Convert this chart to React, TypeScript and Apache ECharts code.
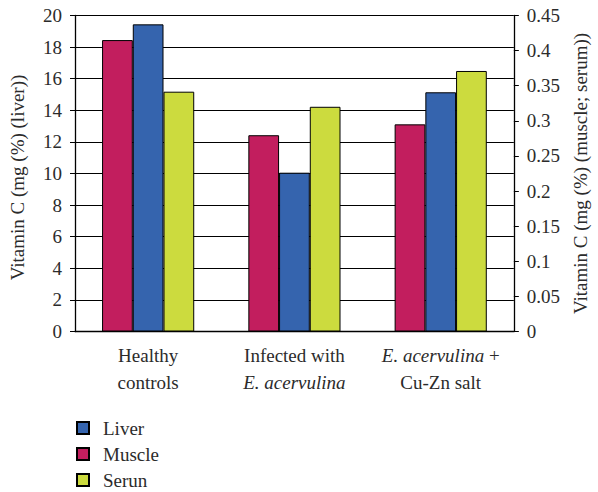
import React, { useEffect, useRef } from "react";
import * as echarts from "echarts";

const categories = ["Healthy\ncontrols", "Infected with\n{i|E. acervulina}", "{i|E. acervulina} +\nCu-Zn salt"];
const liver = [19.44, 10.05, 15.14];
const muscle = [0.415, 0.2795, 0.295];
const serum = [0.3415, 0.32, 0.371];
const legendNames = ["Liver", "Muscle", "Serun"];

const FONT = "'Liberation Serif', 'Times New Roman', serif";
const TXT = "#2B2B2B";
const FS = 19;

export default function App() {
  const ref = useRef<HTMLDivElement>(null);
  useEffect(() => {
    const chart = echarts.init(ref.current!, null, { renderer: "svg" });
    const border = { borderColor: "#000", borderWidth: 1 };
    chart.setOption({
      animation: false,
      textStyle: { fontFamily: FONT, color: TXT },
      grid: { left: 75, right: 80, top: 15.5, bottom: 160.5 },
      legend: {
        data: legendNames,
        orient: "vertical",
        left: 76,
        top: 418,
        padding: 0,
        itemWidth: 12,
        itemHeight: 12,
        itemGap: 6,
        icon: "rect",
        textStyle: { fontFamily: FONT, fontSize: FS, color: TXT, lineHeight: 20, padding: [0, 0, 0, 9] },
      },
      xAxis: {
        type: "category",
        data: categories,
        axisLine: { lineStyle: { color: "#000", width: 1.3 } },
        axisTick: { length: 5, lineStyle: { color: "#000" } },
        axisLabel: {
          fontFamily: FONT,
          fontSize: FS,
          color: TXT,
          lineHeight: 27,
          margin: 10,
          interval: 0,
          rich: { i: { fontStyle: "italic", fontFamily: FONT, fontSize: FS, color: TXT, lineHeight: 27 } },
        },
      },
      yAxis: [
        {
          type: "value",
          min: 0,
          max: 20,
          interval: 2,
          name: "Vitamin C (mg (%) (liver))",
          nameLocation: "middle",
          nameGap: 48,
          nameTextStyle: { fontFamily: FONT, fontSize: FS, color: TXT, padding: [0, 8, 0, 0] },
          axisLine: { show: true, lineStyle: { color: "#000", width: 1.3 } },
          axisTick: { show: true, length: 5, lineStyle: { color: "#000" } },
          axisLabel: { fontFamily: FONT, fontSize: FS, color: TXT, margin: 13 },
          splitLine: { show: true, lineStyle: { color: "#000", width: 1 } },
        },
        {
          type: "value",
          min: 0,
          max: 0.45,
          interval: 0.05,
          position: "right",
          name: "Vitamin C (mg (%) (muscle; serum))",
          nameLocation: "middle",
          nameGap: 55,
          nameRotate: 90,
          nameTextStyle: { fontFamily: FONT, fontSize: FS, color: TXT },
          axisLine: { show: true, lineStyle: { color: "#000", width: 1.3 } },
          axisTick: { show: true, length: 5, lineStyle: { color: "#000" } },
          axisLabel: { fontFamily: FONT, fontSize: FS, color: TXT, margin: 13 },
          splitLine: { show: false },
        },
      ],
      series: [
        {
          name: "Muscle",
          type: "bar",
          yAxisIndex: 1,
          data: muscle,
          barGap: "0%",
          barCategoryGap: "37%",
          itemStyle: { color: "#C21E5E", ...border },
        },
        {
          name: "Liver",
          type: "bar",
          yAxisIndex: 0,
          data: liver,
          barGap: "0%",
          barCategoryGap: "37%",
          itemStyle: { color: "#3564AE", ...border },
        },
        {
          name: "Serun",
          type: "bar",
          yAxisIndex: 1,
          data: serum,
          barGap: "0%",
          barCategoryGap: "37%",
          itemStyle: { color: "#CCDB3E", ...border },
        },
      ],
    });
    return () => chart.dispose();
  }, []);
  return <div ref={ref} style={{ width: 598, height: 492, position: "absolute", left: 0, top: 0 }} />;
}
